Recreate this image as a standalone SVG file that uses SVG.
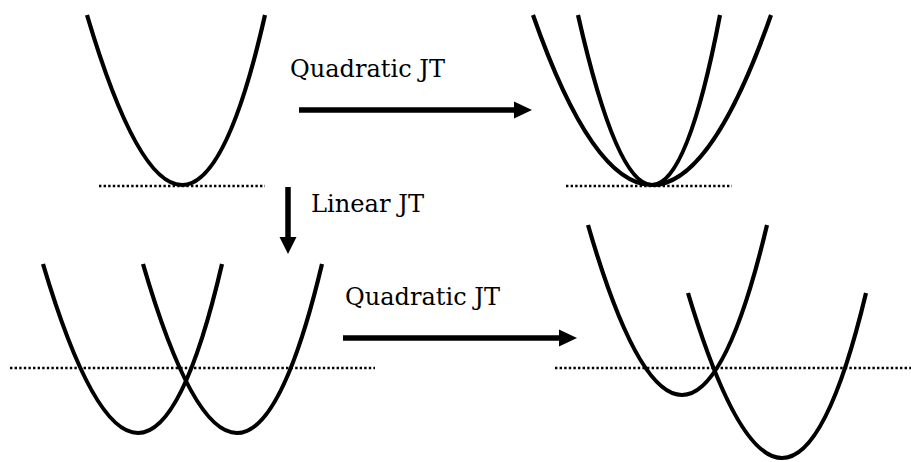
<svg xmlns="http://www.w3.org/2000/svg" width="911" height="462" viewBox="0 0 911 462">
<style>
.curve{fill:none;stroke:#000;stroke-width:4.2;stroke-linecap:butt}
.axis{fill:none;stroke:#000;stroke-width:2.6;stroke-dasharray:2.4 2.2}
.shaft{stroke:#000;stroke-width:5.5}
.head{fill:#000}
.lbl{font-size:25px;fill:#000}
</style>
<rect width="911" height="462" fill="#fff"/>
<g id="top-left">
<line class="axis" x1="99" y1="186" x2="265" y2="186"/>
<path class="curve" d="M87,15 Q188,355 265,15"/>
</g>
<g id="top-right">
<line class="axis" x1="566" y1="186" x2="732" y2="186"/>
<path class="curve" d="M533,15 Q652,355 771,15"/>
<path class="curve" d="M578,15 Q655,355 720,15"/>
</g>
<g id="bottom-left">
<line class="axis" x1="10" y1="368" x2="375" y2="368"/>
<path class="curve" d="M43,264 Q143.5,602 222,264"/>
<path class="curve" d="M143,264 Q241.5,602 322,264"/>
</g>
<g id="bottom-right">
<line class="axis" x1="555" y1="368" x2="911" y2="368"/>
<path class="curve" d="M588,225 Q686.5,565 767,225"/>
<path class="curve" d="M688,293 Q787,623 866,293"/>
</g>
<g id="connectors">
<line class="shaft" x1="299" y1="110" x2="516" y2="110"/>
<polygon class="head" points="514,101.5 532,110 514,118.5"/>
<line class="shaft" x1="288" y1="187" x2="288" y2="239"/>
<polygon class="head" points="279.5,237 296.5,237 288,254"/>
<line class="shaft" x1="343" y1="338" x2="561" y2="338"/>
<polygon class="head" points="559,329.5 577,338 559,346.5"/>
</g>
<g id="labels" font-family="'DejaVu Serif', 'Liberation Serif', serif">
<text class="lbl" x="290" y="77" textLength="155" lengthAdjust="spacingAndGlyphs">Quadratic JT</text>
<text class="lbl" x="311" y="212" textLength="113" lengthAdjust="spacingAndGlyphs">Linear JT</text>
<text class="lbl" x="345" y="305" textLength="155" lengthAdjust="spacingAndGlyphs">Quadratic JT</text>
</g>
</svg>
